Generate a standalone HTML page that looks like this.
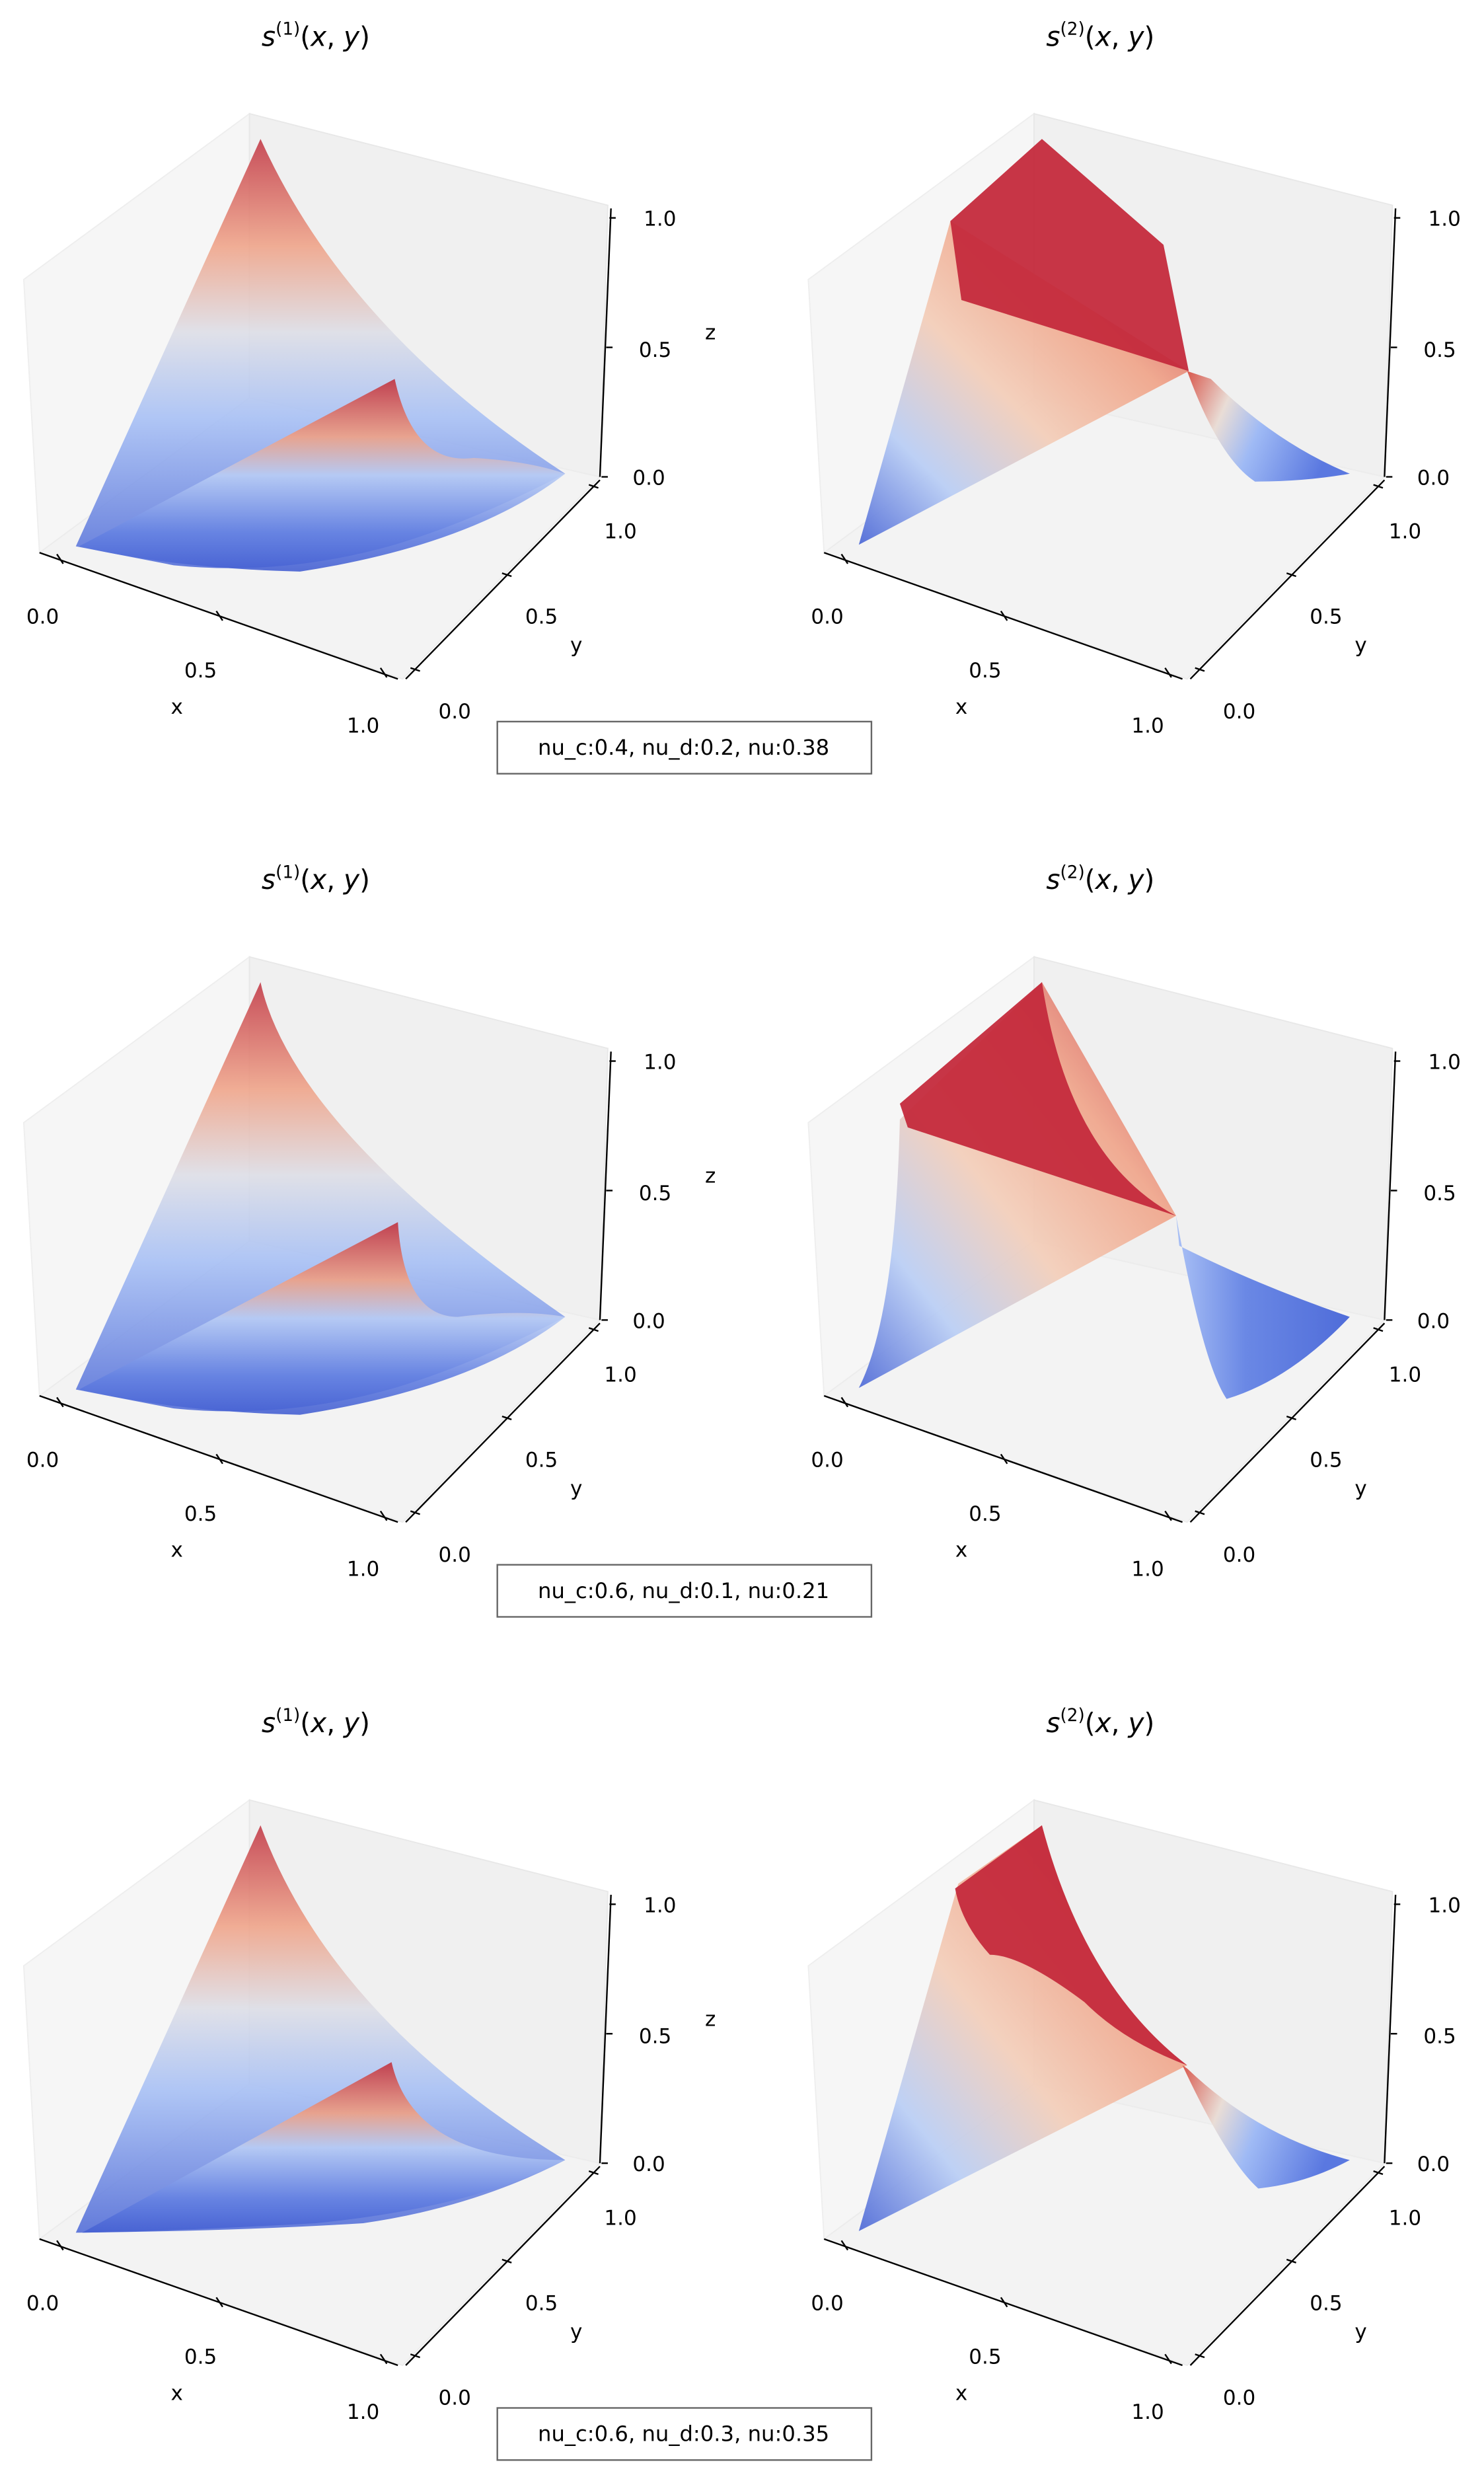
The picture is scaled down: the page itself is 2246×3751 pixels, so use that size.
<!DOCTYPE html>
<html><head><meta charset="utf-8"><style>
html,body{margin:0;padding:0;background:#fff}
svg{display:block}
text{font-family:"DejaVu Sans","Liberation Sans",sans-serif;fill:#000}
</style></head><body>
<svg width="2246" height="3751" viewBox="0 0 940 1570" xmlns="http://www.w3.org/2000/svg">
<defs>
<linearGradient id="gBig" x1="0" y1="0" x2="0" y2="1">
<stop offset="0" stop-color="#c0313f"/><stop offset="0.25" stop-color="#efa084"/>
<stop offset="0.45" stop-color="#dcdde6"/><stop offset="0.65" stop-color="#a3bdf5"/>
<stop offset="1" stop-color="#4a66d6"/></linearGradient>
<linearGradient id="gRidge" x1="0" y1="0" x2="0" y2="1">
<stop offset="0" stop-color="#c0313f"/><stop offset="0.3" stop-color="#efa084"/>
<stop offset="0.5" stop-color="#b9cdf5"/><stop offset="0.8" stop-color="#6582e2"/><stop offset="1" stop-color="#4560d2"/></linearGradient>
<linearGradient id="gCurt" x1="1" y1="0" x2="0" y2="1">
<stop offset="0" stop-color="#c83a48"/><stop offset="0.3" stop-color="#f0a489"/>
<stop offset="0.55" stop-color="#f3cdb8"/><stop offset="0.78" stop-color="#b8cdf5"/>
<stop offset="1" stop-color="#4a66d6"/></linearGradient>
<linearGradient id="gTail" x1="0" y1="0" x2="1" y2="0.3">
<stop offset="0" stop-color="#d8584d"/><stop offset="0.3" stop-color="#e9ddd6"/>
<stop offset="0.55" stop-color="#9fbaf5"/><stop offset="1" stop-color="#5a78e0"/></linearGradient>
<linearGradient id="gTail2" x1="0" y1="0" x2="1" y2="0">
<stop offset="0" stop-color="#a9c0f5"/><stop offset="0.4" stop-color="#6a88e5"/><stop offset="1" stop-color="#4f6cd9"/></linearGradient>
<g id="panes">
<polygon points="15,177 158,72 158,252 25,350" fill="#f6f6f6" stroke="#eeeeee" stroke-width="0.8"/>
<polygon points="158,72 385,130 380,302 158,252" fill="#f0f0f0" stroke="#e8e8e8" stroke-width="0.8"/>
<polygon points="25,350 158,252 380,302 255,430" fill="#f3f3f3" stroke="#ececec" stroke-width="0.8"/>
</g>
<g id="axes" stroke="#000" stroke-width="1" fill="none">
<line x1="25" y1="350" x2="252" y2="430"/>
<line x1="36" y1="351" x2="40" y2="357"/><line x1="137" y1="387" x2="141" y2="393"/><line x1="241" y1="423" x2="245" y2="429"/>
<line x1="257" y1="430" x2="380" y2="304"/>
<line x1="260" y1="423" x2="266" y2="425"/><line x1="318" y1="363" x2="324" y2="365"/><line x1="373" y1="307" x2="379" y2="309"/>
<line x1="380" y1="302" x2="387" y2="132"/>
<line x1="381" y1="302" x2="385" y2="302"/><line x1="384" y1="220" x2="388" y2="220"/><line x1="386" y1="138" x2="390" y2="138"/>
</g>
</defs>

<g>
<use href="#panes"/>
<path d="M48,346 L165,88 Q220,210 358,300 Q300,330 250,345 Q180,365 110,358 Z" fill="url(#gBig)" opacity="0.85"/>
<path d="M50,346 L250,240 Q262,295 300,290 Q335,292 358,300 Q300,345 190,362 Q110,360 50,346 Z" fill="url(#gRidge)" opacity="0.9"/>
<use href="#axes"/>
</g>
<g transform="translate(497,0)">
<use href="#panes"/>
<path d="M47,345 L105,140 L256,235 Z" fill="url(#gCurt)" opacity="0.92"/>
<path d="M105,140 L163,88 L240,155 L256,235 L112,190 Z" fill="#c42a3c" opacity="0.95"/>
<path d="M255,235 Q275,290 298,305 Q330,305 358,300 Q310,280 270,240 Z" fill="url(#gTail)"/>
<use href="#axes"/>
</g>

<g transform="translate(0,534)">
<use href="#panes"/>
<path d="M48,346 L165,88 Q185,180 358,300 Q300,330 250,345 Q180,365 110,358 Z" fill="url(#gBig)" opacity="0.85"/>
<path d="M50,346 L252,240 Q256,300 290,300 Q330,295 358,300 Q300,345 190,362 Q110,360 50,346 Z" fill="url(#gRidge)" opacity="0.9"/>
<use href="#axes"/>
</g>
<g transform="translate(497,534)">
<use href="#panes"/>
<path d="M47,345 Q70,300 73,175 L163,88 L248,236 Z" fill="url(#gCurt)" opacity="0.9"/>
<path d="M73,165 L163,88 Q180,200 248,236 L78,180 Z" fill="#c42a3c" opacity="0.95"/>
<path d="M248,236 Q265,330 280,352 Q320,340 358,300 Q300,280 250,255 Z" fill="url(#gTail2)"/>
<use href="#axes"/>
</g>

<g transform="translate(0,1068)">
<use href="#panes"/>
<path d="M48,346 L165,88 Q210,210 358,300 Q300,330 230,340 Q150,345 48,346 Z" fill="url(#gBig)" opacity="0.85"/>
<path d="M52,346 L248,238 Q262,300 358,300 Q300,330 200,340 Q110,345 52,346 Z" fill="url(#gRidge)" opacity="0.9"/>
<use href="#axes"/>
</g>
<g transform="translate(497,1068)">
<use href="#panes"/>
<path d="M47,345 L110,125 L163,88 Q190,190 255,240 Z" fill="url(#gCurt)" opacity="0.9"/>
<path d="M108,128 L163,88 Q190,190 255,240 Q215,225 190,200 Q150,170 130,170 Q112,150 108,128 Z" fill="#c42a3c" opacity="0.95"/>
<path d="M252,240 Q280,300 300,318 Q330,315 358,300 Q300,285 255,242 Z" fill="url(#gTail)"/>
<use href="#axes"/>
</g>

<g font-size="17" text-anchor="middle">
<text x="200" y="29"><tspan font-style="italic">s</tspan><tspan font-size="11" dy="-7">(1)</tspan><tspan dy="7">(</tspan><tspan font-style="italic">x</tspan>, <tspan font-style="italic">y</tspan>)</text>
<text x="697" y="29"><tspan font-style="italic">s</tspan><tspan font-size="11" dy="-7">(2)</tspan><tspan dy="7">(</tspan><tspan font-style="italic">x</tspan>, <tspan font-style="italic">y</tspan>)</text>
<text x="200" y="563"><tspan font-style="italic">s</tspan><tspan font-size="11" dy="-7">(1)</tspan><tspan dy="7">(</tspan><tspan font-style="italic">x</tspan>, <tspan font-style="italic">y</tspan>)</text>
<text x="697" y="563"><tspan font-style="italic">s</tspan><tspan font-size="11" dy="-7">(2)</tspan><tspan dy="7">(</tspan><tspan font-style="italic">x</tspan>, <tspan font-style="italic">y</tspan>)</text>
<text x="200" y="1097"><tspan font-style="italic">s</tspan><tspan font-size="11" dy="-7">(1)</tspan><tspan dy="7">(</tspan><tspan font-style="italic">x</tspan>, <tspan font-style="italic">y</tspan>)</text>
<text x="697" y="1097"><tspan font-style="italic">s</tspan><tspan font-size="11" dy="-7">(2)</tspan><tspan dy="7">(</tspan><tspan font-style="italic">x</tspan>, <tspan font-style="italic">y</tspan>)</text>
</g>

<g font-size="13" text-anchor="middle">
<text x="27" y="395">0.0</text><text x="127" y="429">0.5</text><text x="230" y="464">1.0</text><text x="112" y="452">x</text>
<text x="288" y="455">0.0</text><text x="343" y="395">0.5</text><text x="393" y="341">1.0</text><text x="365" y="413">y</text>
<text x="418" y="143">1.0</text><text x="415" y="226">0.5</text><text x="411" y="307">0.0</text><text x="450" y="215">z</text>
<text x="524" y="395">0.0</text><text x="624" y="429">0.5</text><text x="727" y="464">1.0</text><text x="609" y="452">x</text>
<text x="785" y="455">0.0</text><text x="840" y="395">0.5</text><text x="890" y="341">1.0</text><text x="862" y="413">y</text>
<text x="915" y="143">1.0</text><text x="912" y="226">0.5</text><text x="908" y="307">0.0</text>
<text x="27" y="929">0.0</text><text x="127" y="963">0.5</text><text x="230" y="998">1.0</text><text x="112" y="986">x</text>
<text x="288" y="989">0.0</text><text x="343" y="929">0.5</text><text x="393" y="875">1.0</text><text x="365" y="947">y</text>
<text x="418" y="677">1.0</text><text x="415" y="760">0.5</text><text x="411" y="841">0.0</text><text x="450" y="749">z</text>
<text x="524" y="929">0.0</text><text x="624" y="963">0.5</text><text x="727" y="998">1.0</text><text x="609" y="986">x</text>
<text x="785" y="989">0.0</text><text x="840" y="929">0.5</text><text x="890" y="875">1.0</text><text x="862" y="947">y</text>
<text x="915" y="677">1.0</text><text x="912" y="760">0.5</text><text x="908" y="841">0.0</text>
<text x="27" y="1463">0.0</text><text x="127" y="1497">0.5</text><text x="230" y="1532">1.0</text><text x="112" y="1520">x</text>
<text x="288" y="1523">0.0</text><text x="343" y="1463">0.5</text><text x="393" y="1409">1.0</text><text x="365" y="1481">y</text>
<text x="418" y="1211">1.0</text><text x="415" y="1294">0.5</text><text x="411" y="1375">0.0</text><text x="450" y="1283">z</text>
<text x="524" y="1463">0.0</text><text x="624" y="1497">0.5</text><text x="727" y="1532">1.0</text><text x="609" y="1520">x</text>
<text x="785" y="1523">0.0</text><text x="840" y="1463">0.5</text><text x="890" y="1409">1.0</text><text x="862" y="1481">y</text>
<text x="915" y="1211">1.0</text><text x="912" y="1294">0.5</text><text x="908" y="1375">0.0</text>
</g>

<g font-size="13.5" text-anchor="middle">
<rect x="315" y="457" width="237" height="33" fill="#fff" stroke="#666" stroke-width="1"/>
<text x="433" y="478">nu_c:0.4, nu_d:0.2, nu:0.38</text>
<rect x="315" y="991" width="237" height="33" fill="#fff" stroke="#666" stroke-width="1"/>
<text x="433" y="1012">nu_c:0.6, nu_d:0.1, nu:0.21</text>
<rect x="315" y="1525" width="237" height="33" fill="#fff" stroke="#666" stroke-width="1"/>
<text x="433" y="1546">nu_c:0.6, nu_d:0.3, nu:0.35</text>
</g>
</svg>
</body></html>
